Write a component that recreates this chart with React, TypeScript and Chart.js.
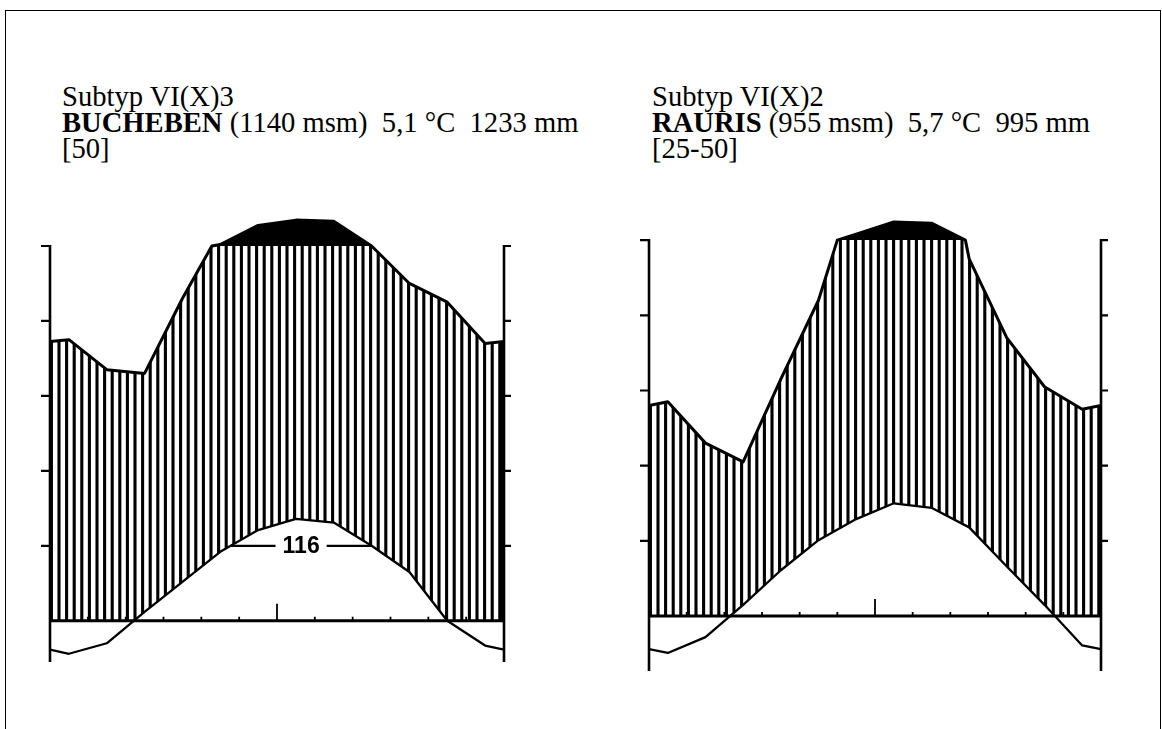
import React, { useEffect, useRef } from "react";
import { Chart, registerables } from "chart.js";

Chart.register(...registerables);

// ---- data ----
const MONTHS = ["Jan", "Feb", "Mär", "Apr", "Mai", "Jun", "Jul", "Aug", "Sep", "Okt", "Nov", "Dez"];
const BUCHEBEN_TEMP = [-4.4, -3.0, 1.2, 5.2, 9.2, 12.1, 13.6, 13.1, 10.0, 6.5, 0.0, -3.3];
const BUCHEBEN_PREC = [75, 67, 66, 86, 104, 155, 169, 166, 100, 90, 85, 74];
const RAURIS_TEMP = [-4.9, -2.8, 1.5, 6.1, 10.1, 12.9, 15.0, 14.4, 11.8, 6.6, 1.5, -3.9];
const RAURIS_PREC = [57, 46, 41, 63, 84, 116, 148, 145, 95, 74, 61, 55];
const TEMP_TICKS = [10, 20, 30, 40, 50];
const PREC_TICKS = [20, 40, 60, 80, 100];
const BUCHEBEN_VEG_DAYS = 116;
const VEG_THRESHOLD = 10;

// Walter-Lieth scale: 10 °C = 20 mm, above 100 mm reduced to 1/10
const precToDisplay = (p: number) => (p <= 100 ? p / 2 : 50 + (p - 100) / 20);

type Pt = { x: number; y: number };

function cyclicSeries(vals: number[]): Pt[] {
  const edge = (vals[0] + vals[vals.length - 1]) / 2;
  const pts: Pt[] = [{ x: 0, y: edge }];
  vals.forEach((v, i) => pts.push({ x: i + 0.5, y: v }));
  pts.push({ x: vals.length, y: edge });
  return pts;
}

function precSeries(vals: number[]): Pt[] {
  const raw = cyclicSeries(vals);
  const out: Pt[] = [];
  for (let i = 0; i < raw.length; i++) {
    if (i > 0) {
      const a = raw[i - 1];
      const b = raw[i];
      if ((a.y - 100) * (b.y - 100) < 0) {
        const f = (100 - a.y) / (b.y - a.y);
        out.push({ x: a.x + f * (b.x - a.x), y: 100 });
      }
    }
    out.push(raw[i]);
  }
  return out.map((p) => ({ x: p.x, y: precToDisplay(p.y) }));
}

function crossings(vals: number[], thr: number): number[] {
  const pts = cyclicSeries(vals);
  const res: number[] = [];
  for (let i = 1; i < pts.length; i++) {
    const a = pts[i - 1];
    const b = pts[i];
    if ((a.y >= thr) !== (b.y >= thr)) {
      const f = b.y === a.y ? 0 : (thr - a.y) / (b.y - a.y);
      res.push(a.x + f * (b.x - a.x));
    } else if (b.y === thr && a.y > thr) {
      res.push(b.x);
    }
  }
  // de-duplicate
  return res.filter((v, i) => i === 0 || Math.abs(v - res[i - 1]) > 1e-6);
}

type PanelProps = {
  temp: number[];
  prec: number[];
  vegDays?: number;
  left: number;
  top: number;
  width: number;
  height: number;
  padding: { left: number; right: number; top: number; bottom: number };
  yMin: number;
};

function Panel(props: PanelProps) {
  const ref = useRef<HTMLCanvasElement | null>(null);
  useEffect(() => {
    const canvas = ref.current;
    if (!canvas) return;
    const precPts = precSeries(props.prec);
    const tempPts = cyclicSeries(props.temp);
    const datasets: any[] = [
      { label: "Niederschlag", data: precPts, borderColor: "#000", borderWidth: 3, pointRadius: 0, tension: 0, fill: false, borderJoinStyle: "round" },
      { label: "Temperatur", data: tempPts, borderColor: "#000", borderWidth: 2.3, pointRadius: 0, tension: 0, fill: false, borderJoinStyle: "round" },
    ];
    let vegRange: number[] | null = null;
    if (props.vegDays) {
      const c = crossings(props.temp, VEG_THRESHOLD);
      if (c.length >= 2) {
        vegRange = [c[0], c[c.length - 1]];
        datasets.push({
          label: "Vegetationszeit",
          data: [{ x: vegRange[0], y: VEG_THRESHOLD }, { x: vegRange[1], y: VEG_THRESHOLD }],
          borderColor: "#000", borderWidth: 2.2, pointRadius: 0, fill: false,
        });
      }
    }

    const climatePlugin = {
      id: "climate",
      beforeDatasetsDraw(chart: any) {
        const ctx = chart.ctx as CanvasRenderingContext2D;
        const xs = chart.scales.x;
        const ys = chart.scales.y;
        const pm = chart.getDatasetMeta(0).data;
        const tm = chart.getDatasetMeta(1).data;
        const x0 = xs.getPixelForValue(0);
        const x1 = xs.getPixelForValue(12);
        const yTop = ys.getPixelForValue(50);
        const yZero = ys.getPixelForValue(0);
        // humid (hatched) area
        ctx.save();
        ctx.beginPath();
        ctx.rect(x0, yTop, x1 - x0, yZero - yTop);
        ctx.clip();
        ctx.beginPath();
        pm.forEach((p: any, i: number) => (i === 0 ? ctx.moveTo(p.x, p.y) : ctx.lineTo(p.x, p.y)));
        for (let i = tm.length - 1; i >= 0; i--) ctx.lineTo(tm[i].x, tm[i].y);
        ctx.closePath();
        ctx.clip();
        ctx.strokeStyle = "#000";
        ctx.lineWidth = 3.1;
        const step = 7.6;
        ctx.beginPath();
        for (let x = x0 + 1.4; x <= x1 + 0.5; x += step) {
          ctx.moveTo(x, yTop);
          ctx.lineTo(x, yZero);
        }
        ctx.moveTo(x1 - 1.4, yTop);
        ctx.lineTo(x1 - 1.4, yZero);
        ctx.stroke();
        ctx.restore();
        // perhumid (black) area above 100 mm
        ctx.save();
        ctx.beginPath();
        ctx.rect(x0, chart.chartArea.top - 10, x1 - x0, yTop - chart.chartArea.top + 10);
        ctx.clip();
        ctx.beginPath();
        pm.forEach((p: any, i: number) => (i === 0 ? ctx.moveTo(p.x, p.y) : ctx.lineTo(p.x, p.y)));
        ctx.lineTo(x1, yTop);
        ctx.lineTo(x0, yTop);
        ctx.closePath();
        ctx.fillStyle = "#000";
        ctx.fill();
        ctx.restore();
      },
      afterDatasetsDraw(chart: any) {
        const ctx = chart.ctx as CanvasRenderingContext2D;
        const xs = chart.scales.x;
        const ys = chart.scales.y;
        const x0 = xs.getPixelForValue(0);
        const x1 = xs.getPixelForValue(12);
        const yTop = ys.getPixelForValue(50);
        const yZero = ys.getPixelForValue(0);
        const yBot = ys.getPixelForValue(props.yMin);
        ctx.save();
        ctx.strokeStyle = "#000";
        ctx.lineCap = "butt";
        // axes
        ctx.lineWidth = 2.6;
        ctx.beginPath();
        ctx.moveTo(x0, yTop - 1);
        ctx.lineTo(x0, yBot);
        ctx.moveTo(x1, yTop - 1);
        ctx.lineTo(x1, yBot);
        ctx.stroke();
        ctx.lineWidth = 2.2;
        ctx.beginPath();
        TEMP_TICKS.forEach((t) => {
          const y = ys.getPixelForValue(t);
          ctx.moveTo(x0 - 9, y);
          ctx.lineTo(x0, y);
        });
        PREC_TICKS.forEach((p) => {
          const y = ys.getPixelForValue(precToDisplay(p));
          ctx.moveTo(x1, y);
          ctx.lineTo(x1 + 7, y);
        });
        ctx.stroke();
        // zero line + month ticks
        ctx.lineWidth = 3;
        ctx.beginPath();
        ctx.moveTo(x0, yZero);
        ctx.lineTo(x1, yZero);
        ctx.stroke();
        ctx.lineWidth = 1.8;
        ctx.beginPath();
        MONTHS.forEach((_, i) => {
          if (i === 0) return;
          const x = xs.getPixelForValue(i);
          const len = i === 6 ? 17 : 4;
          ctx.moveTo(x, yZero);
          ctx.lineTo(x, yZero - len);
        });
        ctx.stroke();
        // vegetation-period label
        if (vegRange && props.vegDays) {
          const xm = xs.getPixelForValue((vegRange[0] + vegRange[1]) / 2);
          const y = ys.getPixelForValue(VEG_THRESHOLD);
          ctx.font = "bold 23px 'Liberation Sans Narrow', 'Liberation Sans', Arial, sans-serif";
          const label = String(props.vegDays);
          const w = ctx.measureText(label).width;
          ctx.fillStyle = "#fff";
          ctx.fillRect(xm - w / 2 - 7, y - 12, w + 14, 24);
          ctx.fillStyle = "#000";
          ctx.textAlign = "center";
          ctx.textBaseline = "middle";
          ctx.fillText(label, xm, y + 1);
        }
        ctx.restore();
      },
    };

    const chart = new Chart(canvas, {
      type: "line",
      data: { datasets },
      options: {
        animation: false,
        responsive: false,
        events: [],
        layout: { padding: props.padding },
        scales: {
          x: { type: "linear", min: 0, max: 12, display: false },
          y: { type: "linear", min: props.yMin, max: 54, display: false },
        },
        plugins: { legend: { display: false }, tooltip: { enabled: false }, title: { display: false } },
      },
      plugins: [climatePlugin],
    } as any);
    return () => chart.destroy();
  }, []);
  return (
    <canvas
      ref={ref}
      width={props.width}
      height={props.height}
      style={{ position: "absolute", left: props.left, top: props.top, width: props.width, height: props.height }}
    />
  );
}

const textStyle: React.CSSProperties = {
  position: "absolute",
  fontFamily: "'Liberation Serif', 'Times New Roman', serif",
  fontSize: 28.6,
  lineHeight: "26px",
  color: "#000",
  whiteSpace: "pre",
};

export default function App() {
  return (
    <div style={{ position: "fixed", left: 0, top: 0, width: 1162, height: 729, background: "#fff", overflow: "hidden" }}>
      <div style={{ position: "absolute", left: 5, top: 10, width: 1154, height: 740, borderTop: "1.5px solid #000", borderLeft: "1.5px solid #000", borderRight: "1.5px solid #000" }} />
      <div style={{ ...textStyle, left: 62, top: 84 }}>
        {"Subtyp VI(X)3\n"}
        <b>BUCHEBEN</b>
        {" (1140 msm)  5,1 °C  1233 mm\n[50]"}
      </div>
      <div style={{ ...textStyle, left: 652, top: 84 }}>
        {"Subtyp VI(X)2\n"}
        <b>RAURIS</b>
        {" (955 msm)  5,7 °C  995 mm\n[25-50]"}
      </div>
      <Panel
        temp={BUCHEBEN_TEMP}
        prec={BUCHEBEN_PREC}
        vegDays={BUCHEBEN_VEG_DAYS}
        left={20}
        top={200}
        width={520}
        height={480}
        padding={{ left: 30, right: 36, top: 16, bottom: 18 }}
        yMin={-5.5}
      />
      <Panel
        temp={RAURIS_TEMP}
        prec={RAURIS_PREC}
        left={600}
        top={200}
        width={540}
        height={480}
        padding={{ left: 49, right: 39, top: 10, bottom: 9 }}
        yMin={-7.3}
      />
    </div>
  );
}
